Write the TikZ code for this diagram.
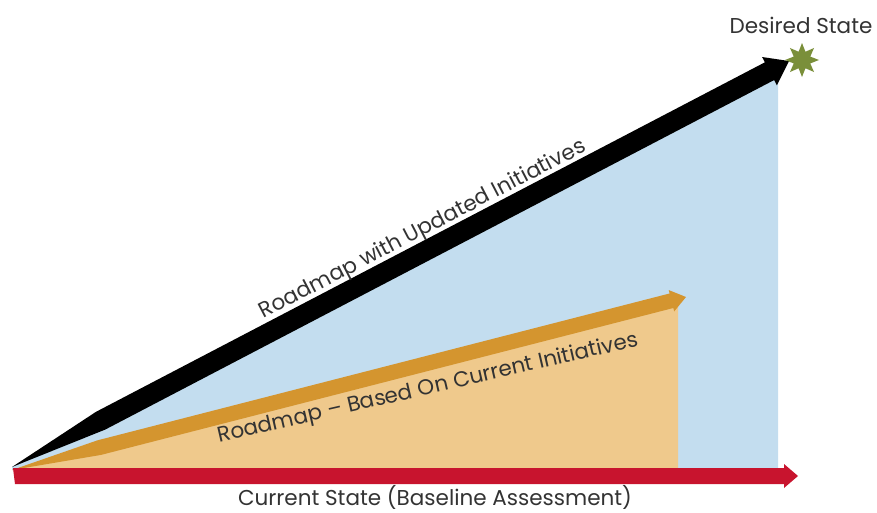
\documentclass[tikz,border=0pt]{standalone}
\usepackage{fontspec}
\setmainfont{Poppins}
\usetikzlibrary{calc,shapes.geometric}
\definecolor{skyfill}{HTML}{C3DDEF}
\definecolor{sandfill}{HTML}{EFC98C}
\definecolor{ochre}{HTML}{D4952F}
\definecolor{redband}{HTML}{C8142E}
\definecolor{stargreen}{HTML}{7A8F3A}
\definecolor{txt}{HTML}{333333}
\tikzset{
  lbl/.style={text=txt, font=\fontsize{21.5}{26}\selectfont, inner sep=0pt},
}
\begin{document}
\begin{tikzpicture}[x=1pt,y=-1pt]
\useasboundingbox (0,0) rectangle (877,512);
% key points
\coordinate (O) at (12,467);
\coordinate (Ob) at (12,470);
\coordinate (T) at (789,61);
\coordinate (To) at (686,297);
% blue region
\fill[skyfill] (O) -- (778,70) -- (778,470) -- (12,470) -- cycle;
% orange region
\fill[sandfill] (Ob) -- (678,305) -- (678,470) -- (12,470) -- cycle;
% black arrow band
\coordinate (B) at ($(T)!22pt!(O)$);
\coordinate (Q) at ($(O)!100pt!(T)$);
\fill[black] (O) -- ($(Q)!10pt!90:(T)$) -- ($(B)!10pt!-90:(O)$) -- ($(B)!16pt!-90:(O)$) -- (T)
  -- ($(B)!16pt!90:(O)$) -- ($(B)!10pt!90:(O)$) -- ($(Q)!10pt!-90:(T)$) -- cycle;
% orange arrow band
\coordinate (Bo) at ($(To)!15pt!(Ob)$);
\coordinate (Qo) at ($(Ob)!90pt!(To)$);
\fill[ochre] (Ob) -- ($(Qo)!7.5pt!90:(To)$) -- ($(Bo)!7.5pt!-90:(Ob)$) -- ($(Bo)!11pt!-90:(Ob)$) -- (To)
  -- ($(Bo)!11pt!90:(Ob)$) -- ($(Bo)!7.5pt!90:(Ob)$) -- ($(Qo)!7.5pt!-90:(To)$) -- cycle;
% red baseline arrow
\coordinate (RT) at (798,476);
\fill[redband] (13,468) -- (784,468) -- (784,464) -- (RT) -- (784,488) -- (784,484) -- (15,484) -- cycle;
% star
\node[star, star points=8, star point ratio=1.9, minimum size=34pt, inner sep=0pt, fill=stargreen] (goal) at (802,60) {};
% labels
\node[lbl] (desired) at (801,25) {Desired State};
\node[lbl] (current) at (435,497) {Current State (Baseline Assessment)};
\node[lbl, rotate=27.5] (upd) at (423,230) {Roadmap with Updated Initiatives};
\node[lbl, rotate=13] (cur) at (428,389) {Roadmap – Based On Current Initiatives};
\end{tikzpicture}
\end{document}
